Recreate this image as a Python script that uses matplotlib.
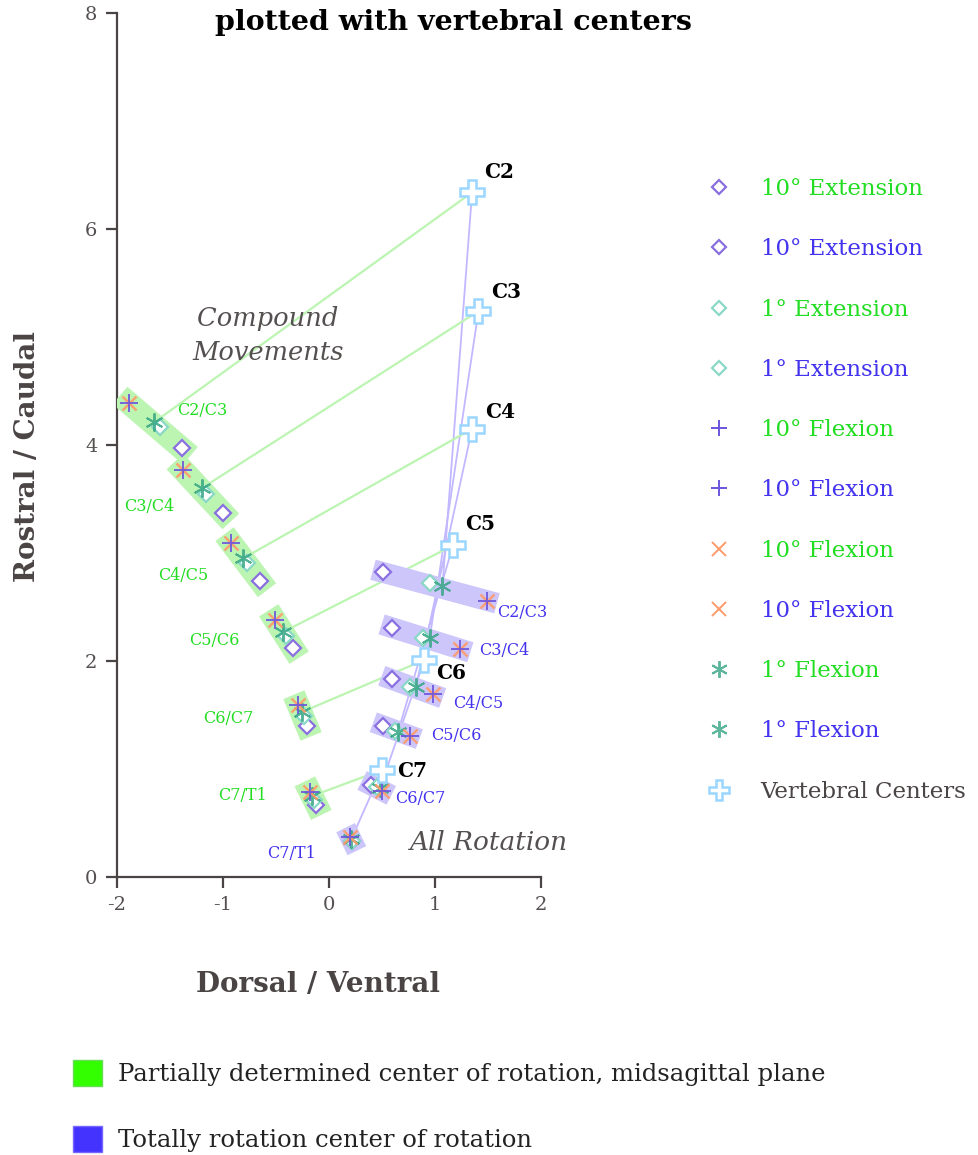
import matplotlib
matplotlib.use("Agg")
import matplotlib.pyplot as plt
from matplotlib.lines import Line2D
from matplotlib.patches import Patch

plt.rcParams["font.family"] = ["DejaVu Serif"]
plt.rcParams["axes.unicode_minus"] = False

# ---- data ----
levels = ["C2/C3", "C3/C4", "C4/C5", "C5/C6", "C6/C7", "C7/T1"]

# compound movements (midsagittal plane, partially determined)
cmp_flex10_x = [-1.89, -1.38, -0.92, -0.51, -0.29, -0.18]
cmp_flex10_y = [4.39, 3.77, 3.09, 2.38, 1.59, 0.79]
cmp_flex1_x = [-1.65, -1.20, -0.81, -0.43, -0.25, -0.16]
cmp_flex1_y = [4.21, 3.60, 2.95, 2.27, 1.53, 0.75]
cmp_ext1_x = [-1.59, -1.16, -0.77, -0.41, -0.24, -0.14]
cmp_ext1_y = [4.17, 3.55, 2.91, 2.23, 1.49, 0.71]
cmp_ext10_x = [-1.39, -1.00, -0.65, -0.34, -0.21, -0.12]
cmp_ext10_y = [3.97, 3.37, 2.74, 2.12, 1.40, 0.67]

# all rotation (totally determined)
rot_ext10_x = [0.51, 0.59, 0.59, 0.51, 0.40, 0.22]
rot_ext10_y = [2.82, 2.31, 1.83, 1.40, 0.85, 0.33]
rot_ext1_x = [0.95, 0.89, 0.76, 0.62, 0.45, 0.22]
rot_ext1_y = [2.72, 2.21, 1.76, 1.35, 0.83, 0.33]
rot_flex1_x = [1.07, 0.95, 0.82, 0.65, 0.48, 0.21]
rot_flex1_y = [2.69, 2.21, 1.76, 1.34, 0.82, 0.35]
rot_flex10_x = [1.49, 1.24, 0.98, 0.76, 0.50, 0.20]
rot_flex10_y = [2.56, 2.11, 1.69, 1.31, 0.80, 0.37]

# vertebral centers
vc_names = ["C2", "C3", "C4", "C5", "C6", "C7"]
vc_x = [1.35, 1.41, 1.35, 1.17, 0.90, 0.50]
vc_y = [6.34, 5.24, 4.15, 3.07, 2.01, 0.99]

# label anchors (annotation positions)
cmp_lab_x = [-1.43, -1.93, -1.61, -1.32, -1.19, -1.05]
cmp_lab_y = [4.32, 3.43, 2.79, 2.19, 1.47, 0.75]
rot_lab_x = [1.59, 1.42, 1.17, 0.96, 0.62, -0.58]
rot_lab_y = [2.45, 2.10, 1.61, 1.31, 0.73, 0.22]
vc_lab_x = [1.46, 1.53, 1.47, 1.28, 1.01, 0.64]
vc_lab_y = [6.53, 5.42, 4.31, 3.27, 1.89, 0.98]

# ---- colours ----
GREEN_BAND = "#bcf5b2"
PURPLE_BAND = "#ccc6fb"
PURPLE_LINE = "#c2b8ff"
EXT10 = "#8a6fe0"
EXT1 = "#8ad8c6"
FLEX10_P = "#6e55dd"
FLEX10_X = "#ff9a6a"
FLEX1 = "#36a584"
VC = "#9ad6ff"
TXT_G = "#22dd22"
TXT_B = "#4433ee"
INK = "#4a4444"

fig = plt.figure(figsize=(9.79, 11.55), dpi=100)
ax = fig.add_axes([0.1195, 0.2407, 0.4331, 0.748])

# connection lines from vertebral centres
for i in range(len(vc_x)):
    ax.plot([vc_x[i], cmp_flex1_x[i]], [vc_y[i], cmp_flex1_y[i]],
            color=GREEN_BAND, lw=1.6, zorder=1)
    ax.plot([vc_x[i], rot_flex1_x[i]], [vc_y[i], rot_flex1_y[i]],
            color=PURPLE_LINE, lw=1.3, zorder=1)

# bands covering each level's centres
for i in range(len(levels)):
    ax.plot([cmp_flex10_x[i], cmp_ext10_x[i]], [cmp_flex10_y[i], cmp_ext10_y[i]],
            color=GREEN_BAND, lw=16.5, solid_capstyle="projecting", zorder=2)
    ax.plot([rot_ext10_x[i], rot_flex10_x[i]], [rot_ext10_y[i], rot_flex10_y[i]],
            color=PURPLE_BAND, lw=15, solid_capstyle="projecting", zorder=2)

mk = dict(ls="none", zorder=4)
for xs, ys in [(cmp_ext10_x, cmp_ext10_y), (rot_ext10_x, rot_ext10_y)]:
    ax.plot(xs, ys, marker="D", ms=8.5, mfc="white", mec=EXT10, mew=1.6, **mk)
for xs, ys in [(cmp_ext1_x, cmp_ext1_y), (rot_ext1_x, rot_ext1_y)]:
    ax.plot(xs, ys, marker="D", ms=8.5, mfc="white", mec=EXT1, mew=1.6, **mk)
for xs, ys in [(cmp_flex1_x, cmp_flex1_y), (rot_flex1_x, rot_flex1_y)]:
    ax.plot(xs, ys, marker=(6, 2, 0), ms=13, color=FLEX1, mew=1.4, alpha=0.85, **mk)
for xs, ys in [(cmp_flex10_x, cmp_flex10_y), (rot_flex10_x, rot_flex10_y)]:
    ax.plot(xs, ys, marker="x", ms=10, color=FLEX10_X, mew=1.8, alpha=0.9, **mk)
    ax.plot(xs, ys, marker="+", ms=13, color=FLEX10_P, mew=1.4, alpha=0.9, **mk)

ax.plot(vc_x, vc_y, marker="P", ms=17, mfc="white", mec=VC, mew=1.8, ls="none", zorder=6)

for i, name in enumerate(levels):
    ax.text(cmp_lab_x[i], cmp_lab_y[i], name, color=TXT_G, fontsize=11.5,
            ha="left", va="center", zorder=7)
    ax.text(rot_lab_x[i], rot_lab_y[i], name, color=TXT_B, fontsize=11.5,
            ha="left", va="center", zorder=7)
for i, name in enumerate(vc_names):
    ax.text(vc_lab_x[i], vc_lab_y[i], name, color="black", fontsize=14.5,
            fontweight="bold", ha="left", va="center", zorder=7)

ax.text(-0.575, 5.01, "Compound\nMovements", style="italic", fontsize=18.5,
        color="#555050", ha="center", va="center", linespacing=1.45, zorder=3)
ax.text(1.5, 0.32, "All Rotation", style="italic", fontsize=19,
        color="#555050", ha="center", va="center", zorder=3)

ax.set_xlim(-2, 2)
ax.set_ylim(0, 8)
ax.set_xticks([-2, -1, 0, 1, 2])
ax.set_yticks([0, 2, 4, 6, 8])
for s in ["top", "right"]:
    ax.spines[s].set_visible(False)
for s in ["left", "bottom"]:
    ax.spines[s].set_color(INK)
    ax.spines[s].set_linewidth(1.6)
    ax.spines[s].set_zorder(0.5)
ax.tick_params(direction="out", length=8, width=1.6, color=INK,
               labelsize=14, labelcolor="#555050", pad=6)
ax.set_xlabel("Dorsal / Ventral", fontsize=20, fontweight="bold", color="#4a4444")
ax.set_ylabel("Rostral / Caudal", fontsize=20, fontweight="bold", color="#4a4444")
ax.xaxis.set_label_coords((318 - 117) / 424, -(985 - 877) / 864)
ax.yaxis.set_label_coords(-(117 - 28) / 424, (877 - 456) / 864)
ax.xaxis.label.set_va("center")
ax.yaxis.label.set_va("center")
ax.patch.set_alpha(0)

fig.text(453 / 979, 1 - 22 / 1155, "plotted with vertebral centers", fontsize=20.5,
         fontweight="bold", ha="center", va="center")

# right-hand legend
def h(**kw):
    return Line2D([], [], ls="none", **kw)

leg_handles = [
    h(marker="D", ms=7, mfc="white", mec=EXT10, mew=1.6),
    h(marker="D", ms=7, mfc="white", mec=EXT10, mew=1.6),
    h(marker="D", ms=7, mfc="white", mec=EXT1, mew=1.6),
    h(marker="D", ms=7, mfc="white", mec=EXT1, mew=1.6),
    h(marker="+", ms=12, color=FLEX10_P, mew=1.4),
    h(marker="+", ms=12, color=FLEX10_P, mew=1.4),
    h(marker="x", ms=10, color=FLEX10_X, mew=1.4),
    h(marker="x", ms=10, color=FLEX10_X, mew=1.4),
    h(marker=(6, 2, 0), ms=12, color=FLEX1, mew=1.4, alpha=0.8),
    h(marker=(6, 2, 0), ms=12, color=FLEX1, mew=1.4, alpha=0.8),
    h(marker="P", ms=15, mfc="white", mec=VC, mew=1.8),
]
leg_labels = ["10° Extension", "10° Extension", "1° Extension", "1° Extension",
              "10° Flexion", "10° Flexion", "10° Flexion", "10° Flexion",
              "1° Flexion", "1° Flexion", "Vertebral Centers"]
leg_colors = [TXT_G, TXT_B, TXT_G, TXT_B, TXT_G, TXT_B, TXT_G, TXT_B,
              TXT_G, TXT_B, "#4a4444"]
leg = fig.legend(leg_handles, leg_labels, loc="upper left",
                 bbox_to_anchor=(708 / 979, 1 - 178 / 1155), frameon=False,
                 fontsize=16.5, handlelength=1.0, handletextpad=1.3,
                 labelspacing=1.67, borderpad=0, borderaxespad=0,
                 labelcolor=leg_colors)

# bottom legend
leg2 = fig.legend([Patch(facecolor="#33ff00", edgecolor="#66dd55"),
                   Patch(facecolor="#4433ff", edgecolor="#7766ff")],
                  ["Partially determined center of rotation, midsagittal plane",
                   "Totally rotation center of rotation"],
                  loc="upper left", bbox_to_anchor=(73 / 979, 1 - 1060 / 1155),
                  frameon=False, fontsize=17.5, handlelength=1.2, handleheight=1.25,
                  handletextpad=0.65, labelspacing=1.65, borderpad=0, borderaxespad=0,
                  labelcolor="#222222")

fig.savefig("out.png", dpi=100)
